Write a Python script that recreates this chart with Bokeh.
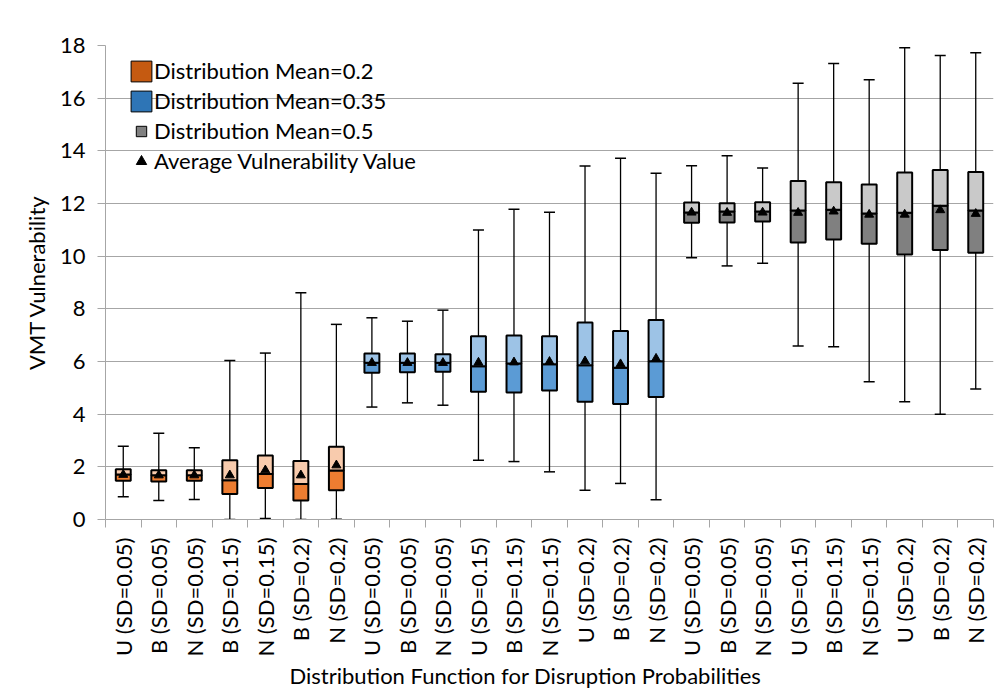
import math
from bokeh.plotting import figure
from bokeh.models import FixedTicker, Legend, LegendItem, Title
from bokeh.embed import file_html
from bokeh.resources import INLINE

# ---------------- data ----------------
labels = ["U (SD=0.05)", "B (SD=0.05)", "N (SD=0.05)", "B (SD=0.15)", "N (SD=0.15)",
          "B (SD=0.2)", "N (SD=0.2)",
          "U (SD=0.05)", "B (SD=0.05)", "N (SD=0.05)", "U (SD=0.15)", "B (SD=0.15)",
          "N (SD=0.15)", "U (SD=0.2)", "B (SD=0.2)", "N (SD=0.2)",
          "U (SD=0.05)", "B (SD=0.05)", "N (SD=0.05)", "U (SD=0.15)", "B (SD=0.15)",
          "N (SD=0.15)", "U (SD=0.2)", "B (SD=0.2)", "N (SD=0.2)"]
groups = ["0.2"] * 7 + ["0.35"] * 9 + ["0.5"] * 9

mins = [0.86, 0.72, 0.76, 0.00, 0.04, 0.00, 0.01,
        4.27, 4.43, 4.34, 2.25, 2.20, 1.81, 1.11, 1.37, 0.75,
        9.94, 9.63, 9.73, 6.59, 6.56, 5.23, 4.47, 4.00, 4.96]
q1 = [1.47, 1.44, 1.47, 0.97, 1.20, 0.72, 1.11,
      5.57, 5.59, 5.61, 4.85, 4.82, 4.90, 4.47, 4.39, 4.65,
      11.27, 11.28, 11.32, 10.52, 10.63, 10.47, 10.06, 10.23, 10.13]
medians = [1.71, 1.68, 1.68, 1.49, 1.73, 1.35, 1.86,
           5.95, 5.95, 5.95, 5.82, 5.92, 5.90, 5.86, 5.76, 6.01,
           11.66, 11.70, 11.70, 11.73, 11.76, 11.62, 11.65, 11.91, 11.73]
q3 = [1.91, 1.87, 1.87, 2.25, 2.43, 2.22, 2.76,
      6.30, 6.30, 6.28, 6.96, 6.99, 6.96, 7.48, 7.16, 7.58,
      12.04, 12.01, 12.05, 12.85, 12.81, 12.72, 13.18, 13.27, 13.20]
maxs = [2.78, 3.28, 2.72, 6.04, 6.32, 8.61, 7.41,
        7.66, 7.53, 7.95, 10.99, 11.78, 11.67, 13.42, 13.72, 13.15,
        13.43, 13.81, 13.35, 16.57, 17.32, 16.70, 17.91, 17.62, 17.72]
means = [1.70, 1.68, 1.68, 1.68, 1.87, 1.68, 2.06,
         5.95, 5.95, 5.95, 5.96, 5.97, 5.99, 6.01, 5.90, 6.11,
         11.66, 11.65, 11.66, 11.65, 11.70, 11.58, 11.58, 11.75, 11.61]

y_ticks = [0, 2, 4, 6, 8, 10, 12, 14, 16, 18]

legend_labels = {"0.2": "Distribution Mean=0.2",
                 "0.35": "Distribution Mean=0.35",
                 "0.5": "Distribution Mean=0.5",
                 "mean": "Average Vulnerability Value"}

# ---------------- styles ----------------
dark = {"0.2": "#ED7D31", "0.35": "#5B9BD5", "0.5": "#808080"}
light = {"0.2": "#F8CBAD", "0.35": "#9DC3E6", "0.5": "#C9C9C9"}
swatch = {"0.2": "#C55A11", "0.35": "#2E75B6", "0.5": "#808080"}
FONT = "Lato"
GRID = "#A6A6A6"

n = len(labels)
xs = [i + 0.5 for i in range(n)]
dark_cols = [dark[g] for g in groups]
light_cols = [light[g] for g in groups]

p = figure(frame_width=888, frame_height=474, x_range=(0, n), y_range=(0, 18),
           output_backend="svg", toolbar_location=None,
           min_border_left=105, min_border_right=4, min_border_top=45, min_border_bottom=168)
p.outline_line_color = None
p.background_fill_color = "white"
p.border_fill_color = "white"

# whiskers
p.segment(x0=xs, y0=mins, x1=xs, y1=maxs, line_color="black", line_width=1.3)
p.scatter(x=xs + xs, y=mins + maxs, marker="dash", size=11, line_color="black", line_width=1.5)

# boxes
p.vbar(x=xs, width=0.42, bottom=q1, top=medians, fill_color=dark_cols,
       line_color="black", line_width=2)
p.vbar(x=xs, width=0.42, bottom=medians, top=q3, fill_color=light_cols,
       line_color="black", line_width=2)

# means
p.scatter(x=xs, y=means, marker="triangle", size=9, fill_color="black", line_color="black")

# axes
p.xgrid.visible = False
p.ygrid.grid_line_color = GRID
p.ygrid.grid_line_width = 1

p.yaxis.ticker = FixedTicker(ticks=y_ticks)
p.yaxis.axis_line_color = GRID
p.yaxis.major_tick_line_color = GRID
p.yaxis.major_tick_out = 8
p.yaxis.major_tick_in = 0
p.yaxis.minor_tick_line_color = None
p.yaxis.major_label_standoff = 12
p.yaxis.major_label_text_font = FONT
p.yaxis.major_label_text_font_size = "22px"
p.yaxis.major_label_text_color = "black"

p.xaxis.ticker = FixedTicker(ticks=xs, minor_ticks=list(range(n + 1)))
p.xaxis.major_label_overrides = {x: lab for x, lab in zip(xs, labels)}
p.xaxis.major_label_orientation = math.pi / 2
p.xaxis.axis_line_color = GRID
p.xaxis.major_tick_line_color = None
p.xaxis.major_tick_out = 8
p.xaxis.major_tick_in = 0
p.xaxis.minor_tick_line_color = GRID
p.xaxis.minor_tick_out = 8
p.xaxis.minor_tick_in = 0
p.xaxis.major_label_standoff = 10
p.xaxis.major_label_text_font = FONT
p.xaxis.major_label_text_font_size = "22px"
p.xaxis.major_label_text_color = "black"

p.add_layout(Title(text="VMT Vulnerability", align="center",
                   text_font=FONT, text_font_size="22px", text_font_style="normal",
                   text_color="black", standoff=14), "left")
p.add_layout(Title(text="Distribution Function for Disruption Probabilities", align="left",
                   offset=184, text_font=FONT, text_font_size="22px", text_font_style="normal",
                   text_color="black", standoff=0), "below")

# legend (renderers with no visible points carry the swatch styles)
nan = [float("nan")]
r_o = p.quad(left=nan, right=nan, top=nan, bottom=nan, fill_color=swatch["0.2"],
             line_color="black", line_width=1)
r_b = p.quad(left=nan, right=nan, top=nan, bottom=nan, fill_color=swatch["0.35"],
             line_color="black", line_width=1)
r_g = p.scatter(x=nan, y=nan, marker="square", fill_color=swatch["0.5"],
                line_color="black", line_width=1)
r_m = p.scatter(x=nan, y=nan, marker="triangle", fill_color="black", line_color="black")

legend = Legend(items=[LegendItem(label=legend_labels["0.2"], renderers=[r_o]),
                       LegendItem(label=legend_labels["0.35"], renderers=[r_b]),
                       LegendItem(label=legend_labels["0.5"], renderers=[r_g]),
                       LegendItem(label=legend_labels["mean"], renderers=[r_m])],
                location=(23, 345), padding=0, margin=0, spacing=3,
                glyph_width=26, glyph_height=26, label_height=26, label_standoff=0,
                label_text_font=FONT, label_text_font_size="22px", label_text_color="black",
                background_fill_alpha=0, border_line_color=None)
p.add_layout(legend, "center")

open("out.html", "w").write(file_html(p, INLINE))
